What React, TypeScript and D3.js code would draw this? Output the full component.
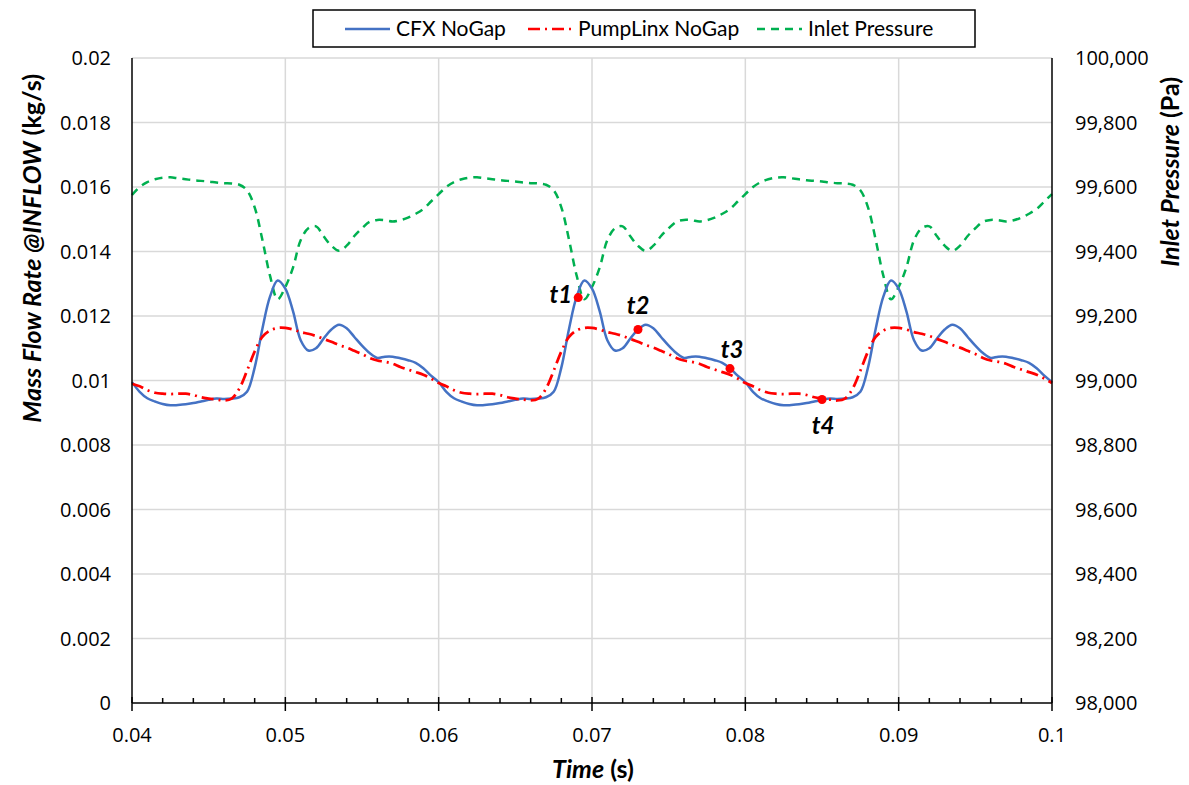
import React from "react";
import * as d3 from "d3";

const TIME = [
  0.04, 0.0405, 0.041, 0.0415, 0.042, 0.0425, 0.043, 0.0435, 0.044, 0.0445,
  0.045, 0.0455, 0.046, 0.0465, 0.047, 0.0475, 0.048, 0.0485, 0.049, 0.0495,
  0.05, 0.0505, 0.051, 0.0515, 0.052, 0.0525, 0.053, 0.0535, 0.054, 0.0545,
  0.055, 0.0555, 0.056, 0.0565, 0.057, 0.0575, 0.058, 0.0585, 0.059, 0.0595,
  0.06, 0.0605, 0.061, 0.0615, 0.062, 0.0625, 0.063, 0.0635, 0.064, 0.0645,
  0.065, 0.0655, 0.066, 0.0665, 0.067, 0.0675, 0.068, 0.0685, 0.069, 0.0695,
  0.07, 0.0705, 0.071, 0.0715, 0.072, 0.0725, 0.073, 0.0735, 0.074, 0.0745,
  0.075, 0.0755, 0.076, 0.0765, 0.077, 0.0775, 0.078, 0.0785, 0.079, 0.0795,
  0.08, 0.0805, 0.081, 0.0815, 0.082, 0.0825, 0.083, 0.0835, 0.084, 0.0845,
  0.085, 0.0855, 0.086, 0.0865, 0.087, 0.0875, 0.088, 0.0885, 0.089, 0.0895,
  0.09, 0.0905, 0.091, 0.0915, 0.092, 0.0925, 0.093, 0.0935, 0.094, 0.0945,
  0.095, 0.0955, 0.096, 0.0965, 0.097, 0.0975, 0.098, 0.0985, 0.099, 0.0995,
  0.1,
];

const CFX_NOGAP = [
  0.00995, 0.00965, 0.00945, 0.00935, 0.00927, 0.00923, 0.00924, 0.00926, 0.0093, 0.00935,
  0.0094, 0.00944, 0.00943, 0.00944, 0.00948, 0.00965, 0.0104, 0.0116, 0.0126, 0.0131,
  0.01285, 0.01215, 0.01125, 0.01093, 0.011, 0.0113, 0.01158, 0.01173, 0.01162, 0.01135,
  0.01108, 0.01085, 0.0107, 0.01074, 0.01074, 0.01069, 0.01063, 0.01055, 0.01038, 0.01015,
  0.00995, 0.00965, 0.00945, 0.00935, 0.00927, 0.00923, 0.00924, 0.00926, 0.0093, 0.00935,
  0.0094, 0.00944, 0.00943, 0.00944, 0.00948, 0.00965, 0.0104, 0.0116, 0.0126, 0.0131,
  0.01285, 0.01215, 0.01125, 0.01093, 0.011, 0.0113, 0.01158, 0.01173, 0.01162, 0.01135,
  0.01108, 0.01085, 0.0107, 0.01074, 0.01074, 0.01069, 0.01063, 0.01055, 0.01038, 0.01015,
  0.00995, 0.00965, 0.00945, 0.00935, 0.00927, 0.00923, 0.00924, 0.00926, 0.0093, 0.00935,
  0.0094, 0.00944, 0.00943, 0.00944, 0.00948, 0.00965, 0.0104, 0.0116, 0.0126, 0.0131,
  0.01285, 0.01215, 0.01125, 0.01093, 0.011, 0.0113, 0.01158, 0.01173, 0.01162, 0.01135,
  0.01108, 0.01085, 0.0107, 0.01074, 0.01074, 0.01069, 0.01063, 0.01055, 0.01038, 0.01015,
  0.00995,
];

const PUMPLINX_NOGAP = [
  0.0099, 0.00982, 0.0097, 0.00962, 0.00959, 0.00958, 0.00959, 0.00959, 0.00955, 0.00948,
  0.00944, 0.00941, 0.00938, 0.00944, 0.00975, 0.0103, 0.0109, 0.01135, 0.01155, 0.01163,
  0.01163, 0.01158, 0.0115, 0.01145, 0.01138, 0.01129, 0.0112, 0.0111, 0.01102, 0.01092,
  0.01082, 0.0107, 0.01062, 0.01058, 0.01052, 0.01042, 0.01034, 0.01026, 0.01018, 0.01006,
  0.00992, 0.00982, 0.0097, 0.00962, 0.00959, 0.00958, 0.00959, 0.00959, 0.00955, 0.00948,
  0.00944, 0.00941, 0.00938, 0.00944, 0.00975, 0.0103, 0.0109, 0.01135, 0.01155, 0.01163,
  0.01163, 0.01158, 0.0115, 0.01145, 0.01138, 0.01129, 0.0112, 0.0111, 0.01102, 0.01092,
  0.01082, 0.0107, 0.01062, 0.01058, 0.01052, 0.01042, 0.01034, 0.01026, 0.01018, 0.01006,
  0.00992, 0.00982, 0.0097, 0.00962, 0.00959, 0.00958, 0.00959, 0.00959, 0.00955, 0.00948,
  0.00944, 0.00941, 0.00938, 0.00944, 0.00975, 0.0103, 0.0109, 0.01135, 0.01155, 0.01163,
  0.01163, 0.01158, 0.0115, 0.01145, 0.01138, 0.01129, 0.0112, 0.0111, 0.01102, 0.01092,
  0.01082, 0.0107, 0.01062, 0.01058, 0.01052, 0.01042, 0.01034, 0.01026, 0.01018, 0.01006,
  0.00992,
];

const INLET_PRESSURE = [
  99575, 99600, 99615, 99624, 99629, 99630, 99627, 99624, 99621, 99619,
  99617, 99614, 99612, 99611, 99607, 99590, 99537, 99437, 99325, 99252,
  99290, 99350, 99435, 99472, 99478, 99447, 99418, 99402, 99418, 99448,
  99472, 99492, 99498, 99497, 99493, 99497, 99505, 99517, 99532, 99555,
  99578, 99600, 99615, 99624, 99629, 99630, 99627, 99624, 99621, 99619,
  99617, 99614, 99612, 99611, 99607, 99590, 99537, 99437, 99325, 99252,
  99290, 99350, 99435, 99472, 99478, 99447, 99418, 99402, 99418, 99448,
  99472, 99492, 99498, 99497, 99493, 99497, 99505, 99517, 99532, 99555,
  99578, 99600, 99615, 99624, 99629, 99630, 99627, 99624, 99621, 99619,
  99617, 99614, 99612, 99611, 99607, 99590, 99537, 99437, 99325, 99252,
  99290, 99350, 99435, 99472, 99478, 99447, 99418, 99402, 99418, 99448,
  99472, 99492, 99498, 99497, 99493, 99497, 99505, 99517, 99532, 99555,
  99578,
];

const MARKER_LABELS = ["t1", "t2", "t3", "t4"];
const MARKER_TIME = [0.0691, 0.0730, 0.0790, 0.0850];
const MARKER_VALUE = [0.01257, 0.01158, 0.01037, 0.00941];

const X_TICKS = [0.04, 0.05, 0.06, 0.07, 0.08, 0.09, 0.1];
const X_MINOR = [
  0.042, 0.044, 0.046, 0.048, 0.052, 0.054, 0.056, 0.058, 0.062, 0.064, 0.066, 0.068,
  0.072, 0.074, 0.076, 0.078, 0.082, 0.084, 0.086, 0.088, 0.092, 0.094, 0.096, 0.098,
];
const Y_TICKS = [0, 0.002, 0.004, 0.006, 0.008, 0.01, 0.012, 0.014, 0.016, 0.018, 0.02];
const Y2_TICKS = [98000, 98200, 98400, 98600, 98800, 99000, 99200, 99400, 99600, 99800, 100000];

const SERIES_NAMES = ["CFX NoGap", "PumpLinx NoGap", "Inlet Pressure"];

// layout
const W = 1189;
const H = 785;
const L = 132;
const R = 1052;
const T = 58;
const B = 703;

const BLUE = "#4472C4";
const RED = "#FF0000";
const GREEN = "#00B050";
const GRID = "#D9D9D9";
const TICK_FONT = "'Open Sans', sans-serif";
const LABEL_FONT = "Lato, 'Open Sans', sans-serif";

// label offsets relative to marker dots (layout)
const LABEL_OFFSETS: [number, number, string][] = [
  [-6, 5, "end"],
  [0, -16, "middle"],
  [2, -11, "middle"],
  [1, 34, "middle"],
];

export default function App() {
  const x = d3.scaleLinear().domain([0.04, 0.1]).range([L, R]);
  const y = d3.scaleLinear().domain([0, 0.02]).range([B, T]);
  const y2 = d3.scaleLinear().domain([98000, 100000]).range([B, T]);

  const curve = d3.curveCatmullRom.alpha(0.5);
  const lineL = d3
    .line<number>()
    .x((_, i) => x(TIME[i]))
    .y((d) => y(d))
    .curve(curve);
  const lineR = d3
    .line<number>()
    .x((_, i) => x(TIME[i]))
    .y((d) => y2(d))
    .curve(curve);

  const fmtY = (v: number) => (v === 0 ? "0" : String(+v.toFixed(3)));
  const fmtY2 = d3.format(",");
  const fmtX = (v: number) => String(+v.toFixed(2));

  const legendY = 29;
  const legendItems = [
    { x1: 345, x2: 390, tx: 396, color: BLUE, dash: "none" },
    { x1: 528, x2: 572, tx: 578, color: RED, dash: "12 5 2 5" },
    { x1: 757, x2: 802, tx: 808, color: GREEN, dash: "8 6" },
  ];

  return (
    <svg
      width={W}
      height={H}
      style={{ position: "absolute", left: 0, top: 0, background: "#fff" }}
    >
      <rect x={0} y={0} width={W} height={H} fill="#fff" />
      {/* grid */}
      {Y_TICKS.filter((t) => t > 0).map((t) => (
        <line key={"gy" + t} x1={L} x2={R} y1={y(t)} y2={y(t)} stroke={GRID} strokeWidth={1.5} />
      ))}
      {X_TICKS.filter((t) => t > 0.04 && t < 0.1).map((t) => (
        <line key={"gx" + t} x1={x(t)} x2={x(t)} y1={T} y2={B} stroke={GRID} strokeWidth={1.5} />
      ))}

      {/* series */}
      <path d={lineR(INLET_PRESSURE) || ""} fill="none" stroke={GREEN} strokeWidth={2.5} strokeDasharray="8 6" />
      <path d={lineL(CFX_NOGAP) || ""} fill="none" stroke={BLUE} strokeWidth={2.5} />
      <path d={lineL(PUMPLINX_NOGAP) || ""} fill="none" stroke={RED} strokeWidth={2.75} strokeDasharray="12 5 2 5" />

      {/* markers */}
      {MARKER_TIME.map((t, i) => {
        const cx = x(t);
        const cy = y(MARKER_VALUE[i]);
        const [dx, dy, anchor] = LABEL_OFFSETS[i];
        return (
          <g key={"m" + i}>
            <circle cx={cx} cy={cy} r={4.5} fill={RED} />
            <text
              x={cx + dx}
              y={cy + dy}
              textAnchor={anchor}
              fontFamily={LABEL_FONT}
              fontWeight="bold"
              fontStyle="italic"
              fontSize={24}
              fill="#000"
            >
              {MARKER_LABELS[i]}
            </text>
          </g>
        );
      })}

      {/* axes */}
      <line x1={L} x2={L} y1={T} y2={B} stroke="#000" strokeWidth={1.5} />
      <line x1={R} x2={R} y1={T} y2={B} stroke="#000" strokeWidth={1.5} />
      <line x1={L} x2={R} y1={B} y2={B} stroke="#000" strokeWidth={1.5} />
      {X_TICKS.map((t) => (
        <line key={"xt" + t} x1={x(t)} x2={x(t)} y1={B - 6} y2={B + 8} stroke="#000" strokeWidth={1.5} />
      ))}
      {X_MINOR.map((t) => (
        <line key={"xm" + t} x1={x(t)} x2={x(t)} y1={B - 5} y2={B} stroke="#000" strokeWidth={1.5} />
      ))}

      {/* tick labels */}
      {X_TICKS.map((t) => (
        <text key={"xl" + t} x={x(t)} y={742} textAnchor="middle" fontFamily={TICK_FONT} fontSize={20} fill="#000">
          {fmtX(t)}
        </text>
      ))}
      {Y_TICKS.map((t) => (
        <text key={"yl" + t} x={111} y={y(t) + 7} textAnchor="end" fontFamily={TICK_FONT} fontSize={20} fill="#000">
          {fmtY(t)}
        </text>
      ))}
      {Y2_TICKS.map((t) => (
        <text key={"y2l" + t} x={1075} y={y2(t) + 7} textAnchor="start" fontFamily={TICK_FONT} fontSize={20} fill="#000">
          {fmtY2(t)}
        </text>
      ))}

      {/* axis titles */}
      <text x={593} y={778} textAnchor="middle" fontFamily={LABEL_FONT} fontWeight="bold" fontSize={25} fill="#000">
        <tspan fontStyle="italic">Time</tspan> (s)
      </text>
      <text
        transform={`translate(41, 74) rotate(-90)`}
        textAnchor="end"
        fontFamily={LABEL_FONT}
        fontWeight="bold"
        fontSize={25}
        fill="#000"
      >
        <tspan fontStyle="italic">Mass Flow Rate @INFLOW</tspan> (kg/s)
      </text>
      <text
        transform={`translate(1179, 77) rotate(-90)`}
        textAnchor="end"
        fontFamily={LABEL_FONT}
        fontWeight="bold"
        fontSize={25}
        fill="#000"
      >
        <tspan fontStyle="italic">Inlet Pressure</tspan> (Pa)
      </text>

      {/* legend */}
      <rect x={313} y={10} width={662} height={37} fill="#fff" stroke="#000" strokeWidth={1.5} />
      {legendItems.map((it, i) => (
        <g key={"lg" + i}>
          <line x1={it.x1} x2={it.x2} y1={legendY} y2={legendY} stroke={it.color} strokeWidth={2.5} strokeDasharray={it.dash} />
          <text x={it.tx} y={legendY + 7} fontFamily={LABEL_FONT} fontSize={21} fill="#000">
            {SERIES_NAMES[i]}
          </text>
        </g>
      ))}
    </svg>
  );
}
